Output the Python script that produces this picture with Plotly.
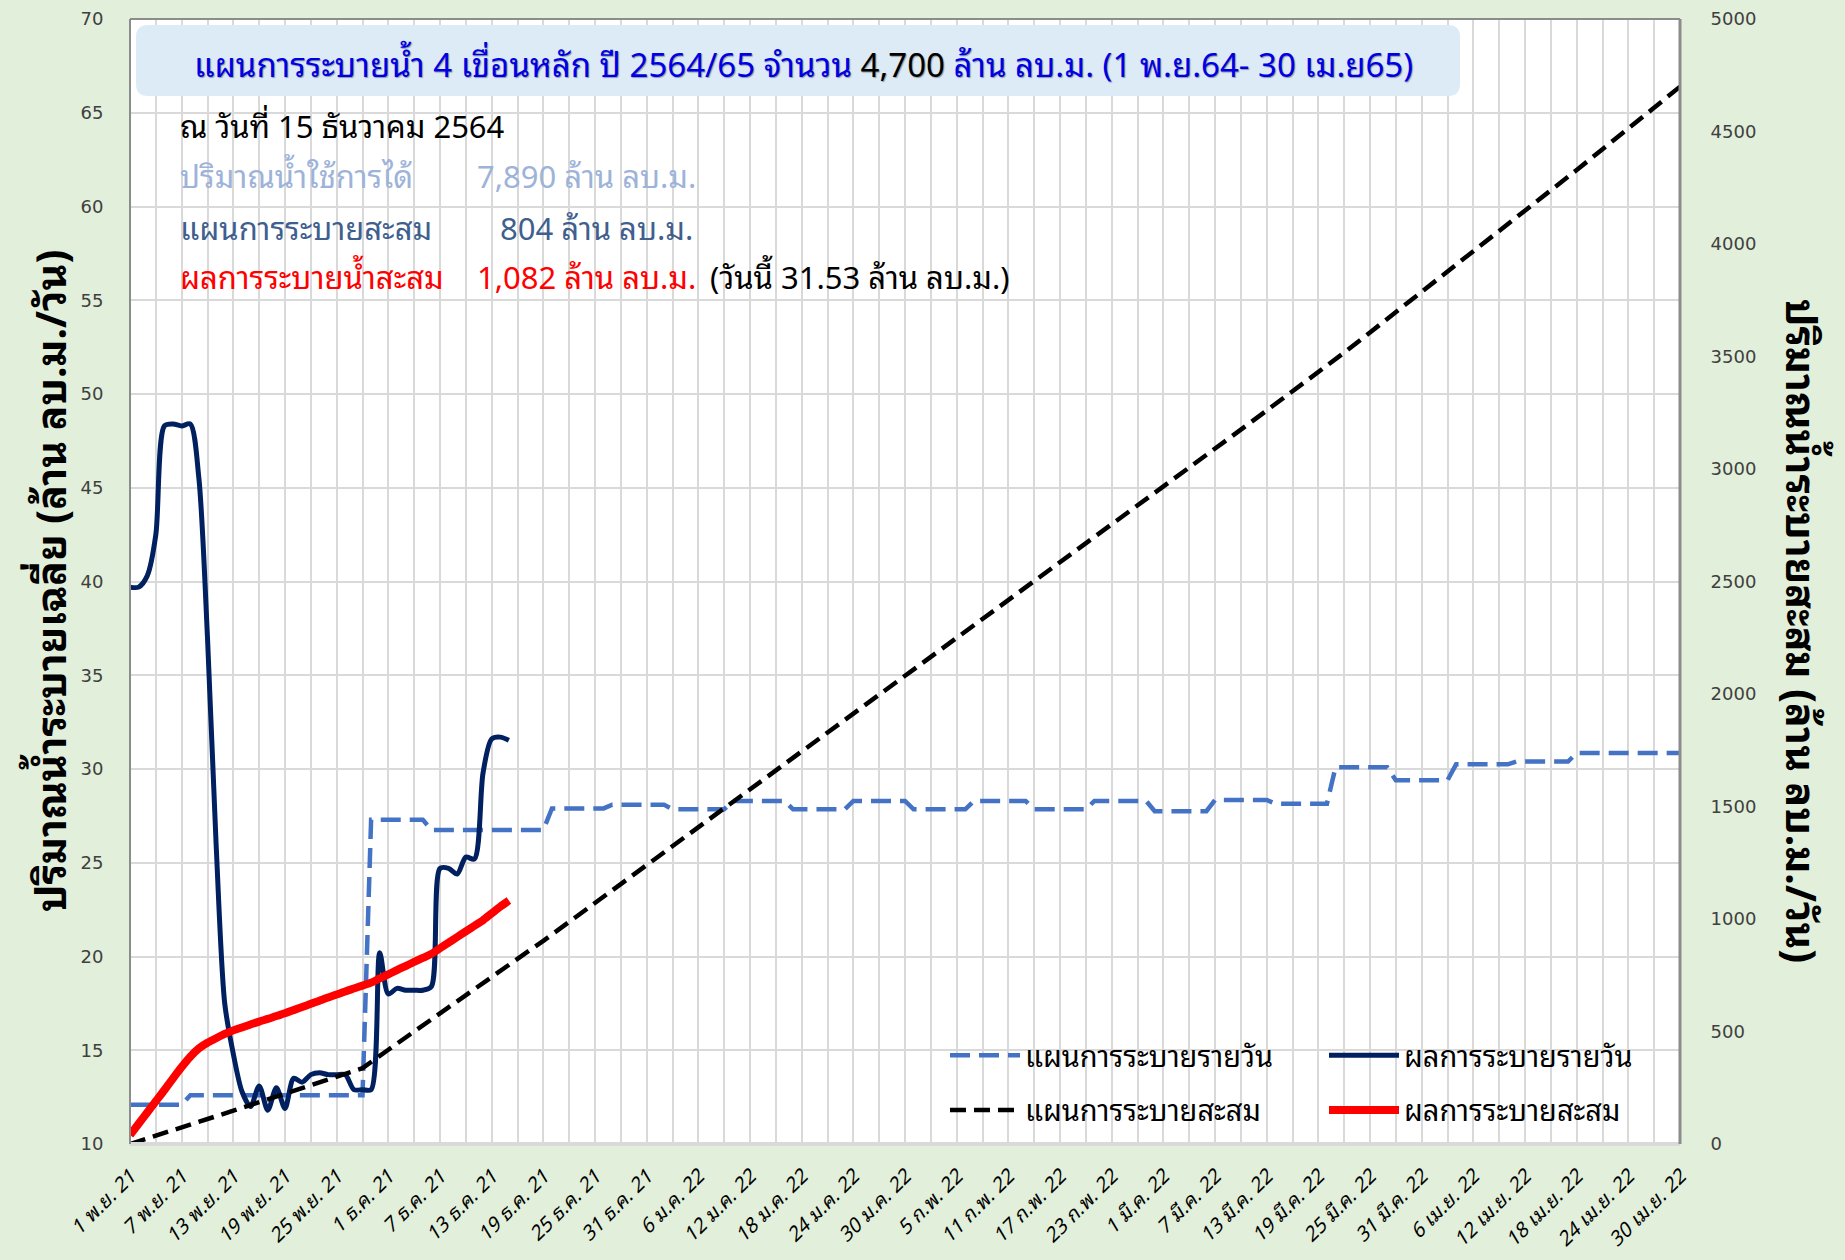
import pandas as pd
import plotly.graph_objects as go

# ---------------- data ----------------
dates = pd.date_range("2021-11-01", "2022-04-30", freq="D")

tick_labels = ["1 พ.ย. 21", "7 พ.ย. 21", "13 พ.ย. 21", "19 พ.ย. 21", "25 พ.ย. 21",
               "1 ธ.ค. 21", "7 ธ.ค. 21", "13 ธ.ค. 21", "19 ธ.ค. 21", "25 ธ.ค. 21",
               "31 ธ.ค. 21", "6 ม.ค. 22", "12 ม.ค. 22", "18 ม.ค. 22", "24 ม.ค. 22",
               "30 ม.ค. 22", "5 ก.พ. 22", "11 ก.พ. 22", "17 ก.พ. 22", "23 ก.พ. 22",
               "1 มี.ค. 22", "7 มี.ค. 22", "13 มี.ค. 22", "19 มี.ค. 22", "25 มี.ค. 22",
               "31 มี.ค. 22", "6 เม.ย. 22", "12 เม.ย. 22", "18 เม.ย. 22", "24 เม.ย. 22",
               "30 เม.ย. 22"]

# daily release plan (million m3/day), one value per day 1 Nov 21 .. 30 Apr 22
plan_daily = [
    12.1, 12.1, 12.1, 12.1, 12.1, 12.1, 12.1,
    12.6, 12.6, 12.6, 12.6, 12.6, 12.6, 12.6,
    12.6, 12.6, 12.6, 12.6, 12.6, 12.6, 12.6,
    12.6, 12.6, 12.6, 12.6, 12.6, 12.6, 12.6,
    27.3, 27.3, 27.3, 27.3, 27.3, 27.3, 27.3,
    26.75, 26.75, 26.75, 26.75, 26.75, 26.75, 26.75,
    26.75, 26.75, 26.75, 26.75, 26.75, 26.75, 26.75,
    27.9, 27.9, 27.9, 27.9, 27.9, 27.9, 27.9,
    28.1, 28.1, 28.1, 28.1, 28.1, 28.1, 28.1,
    27.85, 27.85, 27.85, 27.85, 27.85, 27.85, 27.85,
    28.3, 28.3, 28.3, 28.3, 28.3, 28.3, 28.3,
    27.85, 27.85, 27.85, 27.85, 27.85, 27.85, 27.85,
    28.3, 28.3, 28.3, 28.3, 28.3, 28.3, 28.3,
    27.85, 27.85, 27.85, 27.85, 27.85, 27.85, 27.85,
    28.3, 28.3, 28.3, 28.3, 28.3, 28.3, 28.3,
    27.85, 27.85, 27.85, 27.85, 27.85, 27.85, 27.85,
    28.3, 28.3, 28.3, 28.3, 28.3, 28.3, 28.3,
    27.75, 27.75, 27.75, 27.75, 27.75, 27.75, 27.75,
    28.35, 28.35, 28.35, 28.35, 28.35, 28.35, 28.35,
    28.15, 28.15, 28.15, 28.15, 28.15, 28.15, 28.15,
    30.1, 30.1, 30.1, 30.1, 30.1, 30.1, 30.1,
    29.4, 29.4, 29.4, 29.4, 29.4, 29.4, 29.4,
    30.25, 30.25, 30.25, 30.25, 30.25, 30.25, 30.25,
    30.4, 30.4, 30.4, 30.4, 30.4, 30.4, 30.4,
    30.85, 30.85, 30.85, 30.85, 30.85, 30.85, 30.85,
    30.85, 30.85, 30.85, 30.85, 30.85, 30.85,
]

# actual daily release (million m3/day), 1 Nov 21 .. 15 Dec 21
actual_daily = [39.7, 39.7, 40.3, 42.5, 48.3, 48.4, 48.3, 48.4, 45.5, 37.0,
                26.0, 17.5, 14.8, 12.8, 12.0, 13.1, 11.8, 13.0, 11.9, 13.5,
                13.3, 13.7, 13.8, 13.7, 13.7, 13.7, 12.9, 12.9, 12.9, 20.2,
                18.0, 18.3, 18.2, 18.2, 18.2, 18.4, 24.7, 24.7, 24.4, 25.3,
                25.2, 29.8, 31.6, 31.7, 31.53]

# cumulative plan (million m3), every 3 days
plan_cum = [0, 36, 73, 110, 148, 186, 224, 262, 299, 337, 419, 501, 582, 662, 742,
            823, 903, 987, 1070, 1154, 1239, 1323, 1406, 1490, 1575, 1660, 1744,
            1827, 1911, 1996, 2081, 2164, 2248, 2332, 2417, 2502, 2585, 2669, 2754,
            2839, 2923, 3006, 3090, 3175, 3260, 3344, 3429, 3517, 3607, 3697, 3785,
            3873, 3964, 4055, 4146, 4237, 4329, 4421, 4514, 4606, 4699]

# cumulative actual (million m3), daily
actual_cum = [40, 90, 140, 190, 240, 292, 342, 388, 425, 450,
              470, 489, 505, 518, 531, 544, 556, 569, 581, 595,
              609, 623, 637, 651, 664, 678, 691, 704, 717, 736,
              754, 773, 791, 809, 827, 845, 870, 895, 920, 945,
              970, 995, 1025, 1055, 1082]

series_names = ["แผนการระบายรายวัน", "ผลการระบายรายวัน", "แผนการระบายสะสม", "ผลการระบายสะสม"]

# ---------------- layout helpers ----------------
W, H = 1845, 1260
L, R, T, B = 130, 1680, 19, 1144
THAI = "Noto Sans Thai Looped, Noto Sans Thai, Tahoma, Noto Sans, sans-serif"
TICKF = "DejaVu Sans, Verdana, sans-serif"


def px(x):
    return (x - L) / (R - L)


def py(y):
    return (B - y) / (B - T)


x_three = list(dates[::3])
x_ticktext = []
for i in range(len(x_three)):
    x_ticktext.append(tick_labels[i // 2] if i % 2 == 0 else "")

fig = go.Figure()
fig.add_trace(go.Scatter(
    x=dates, y=plan_daily, name=series_names[0], mode="lines",
    line=dict(color="#4472C4", width=4.5, dash="20px,9px"),
    legend="legend", legendgroup="a"))
fig.add_trace(go.Scatter(
    x=dates[:len(actual_daily)], y=actual_daily, name=series_names[1], mode="lines",
    line=dict(color="#002060", width=5, shape="spline", smoothing=0.8),
    legend="legend2", legendgroup="b"))
fig.add_trace(go.Scatter(
    x=x_three, y=plan_cum, name=series_names[2], mode="lines", yaxis="y2",
    line=dict(color="#000000", width=4.5, dash="16px,8px"),
    legend="legend", legendgroup="c"))
fig.add_trace(go.Scatter(
    x=dates[:len(actual_cum)], y=actual_cum, name=series_names[3], mode="lines", yaxis="y2",
    line=dict(color="#FF0000", width=8, shape="spline", smoothing=0.8),
    legend="legend2", legendgroup="d"))

shapes = []
# rounded title box
x0, x1 = px(136), px(1460)
yt, yb = py(25), py(96)
rx, ry = 12 / (R - L), 12 / (B - T)
path = (f"M {x0+rx},{yt} L {x1-rx},{yt} Q {x1},{yt} {x1},{yt-ry} L {x1},{yb+ry} "
        f"Q {x1},{yb} {x1-rx},{yb} L {x0+rx},{yb} Q {x0},{yb} {x0},{yb+ry} "
        f"L {x0},{yt-ry} Q {x0},{yt} {x0+rx},{yt} Z")
shapes.append(dict(type="path", path=path, xref="paper", yref="paper",
                   fillcolor="#DDEBF7", line=dict(width=0), layer="above"))
# plot frame
shapes.append(dict(type="line", xref="paper", yref="paper", x0=0, x1=1, y0=0, y1=0,
                   line=dict(color="#D9D9D9", width=4)))
shapes.append(dict(type="line", xref="paper", yref="paper", x0=0, x1=1, y0=1, y1=1,
                   line=dict(color="#8C8C8C", width=2)))
shapes.append(dict(type="line", xref="paper", yref="paper", x0=0, x1=0, y0=0, y1=1,
                   line=dict(color="#8C8C8C", width=2)))
shapes.append(dict(type="line", xref="paper", yref="paper", x0=1, x1=1, y0=0, y1=1,
                   line=dict(color="#8C8C8C", width=3)))

ann = []
title_html = ("แผนการระบายน้ำ 4 เขื่อนหลัก ปี 2564/65 จำนวน "
              "<span style='color:#000000'>4,700</span> ล้าน ลบ.ม. (1 พ.ย.64- 30 เม.ย65)")
ann.append(dict(text=title_html, x=px(803), y=py(62), xref="paper", yref="paper",
                showarrow=False, xanchor="center", yanchor="middle",
                font=dict(family=THAI, size=33, color="#0000E6",
                          shadow="1px 1px 1px rgba(0,0,0,0.35)")))


def text_at(t, x, y, color, size=31, anchor="left"):
    ann.append(dict(text=t, x=px(x), y=py(y), xref="paper", yref="paper",
                    showarrow=False, xanchor=anchor, yanchor="middle",
                    font=dict(family=THAI, size=size, color=color)))


text_at("ณ วันที่ 15 ธันวาคม 2564", 178, 124, "#000000")
text_at("ปริมาณน้ำใช้การได้", 178, 174, "#9DB3D9")
text_at("7,890 ล้าน ลบ.ม.", 475, 174, "#9DB3D9")
text_at("แผนการระบายสะสม", 178, 226, "#3F5F8F")
text_at("804 ล้าน ลบ.ม.", 498, 226, "#3F5F8F")
text_at("ผลการระบายน้ำสะสม", 178, 275, "#FF0000")
text_at("1,082 ล้าน ลบ.ม.", 475, 275, "#FF0000")
text_at("(วันนี้ 31.53 ล้าน ลบ.ม.)", 708, 275, "#000000")

# axis titles
ann.append(dict(text="ปริมาณน้ำระบายเฉลี่ย (ล้าน ลบ.ม./วัน)", x=px(47), y=py(581),
                xref="paper", yref="paper", showarrow=False, textangle=-90,
                xanchor="center", yanchor="middle",
                font=dict(family=THAI, size=41, color="#000000", weight="bold")))
ann.append(dict(text="ปริมาณน้ำระบายสะสม (ล้าน ลบ.ม./วัน)", x=px(1805), y=py(631),
                xref="paper", yref="paper", showarrow=False, textangle=90,
                xanchor="center", yanchor="middle",
                font=dict(family=THAI, size=41, color="#000000", weight="bold")))

legend_common = dict(xanchor="left", yanchor="top", bgcolor="rgba(0,0,0,0)",
                     itemwidth=70, tracegroupgap=14, traceorder="grouped",
                     font=dict(family=THAI, size=29, color="#000000"))

fig.update_layout(
    width=W, height=H,
    margin=dict(l=L, r=W - R, t=T, b=H - B, pad=0, autoexpand=False),
    paper_bgcolor="#E2EFDA", plot_bgcolor="#FFFFFF",
    showlegend=True,
    legend=dict(x=px(945), y=py(1030), **legend_common),
    legend2=dict(x=px(1324), y=py(1030), **legend_common),
    xaxis=dict(type="date", range=[dates[0], dates[-1]], automargin=False,
               tickmode="array", tickvals=x_three, ticktext=x_ticktext,
               tickangle=-45, ticks="outside", ticklen=12, tickcolor="rgba(0,0,0,0)",
               tickfont=dict(family=THAI, size=20, color="#000000", style="italic"),
               showgrid=True, gridcolor="#D9D9D9", gridwidth=2,
               showline=False, zeroline=False),
    yaxis=dict(range=[10, 70], dtick=5, tick0=10, automargin=False,
               ticks="outside", ticklen=22, tickcolor="rgba(0,0,0,0)",
               tickfont=dict(family=TICKF, size=18, color="#404040"),
               showgrid=True, gridcolor="#D9D9D9", gridwidth=2,
               showline=False, zeroline=False),
    yaxis2=dict(range=[0, 5000], dtick=500, overlaying="y", side="right",
                automargin=False,
                ticks="outside", ticklen=26, tickcolor="rgba(0,0,0,0)",
                tickfont=dict(family=TICKF, size=18, color="#404040"),
                showgrid=False, zeroline=False, showline=False),
    shapes=shapes,
    annotations=ann,
)

fig.write_html("out.html",
               config={"displayModeBar": False},
               post_script="document.body.style.margin='0px';"
                           "document.body.style.background='#E2EFDA';")
